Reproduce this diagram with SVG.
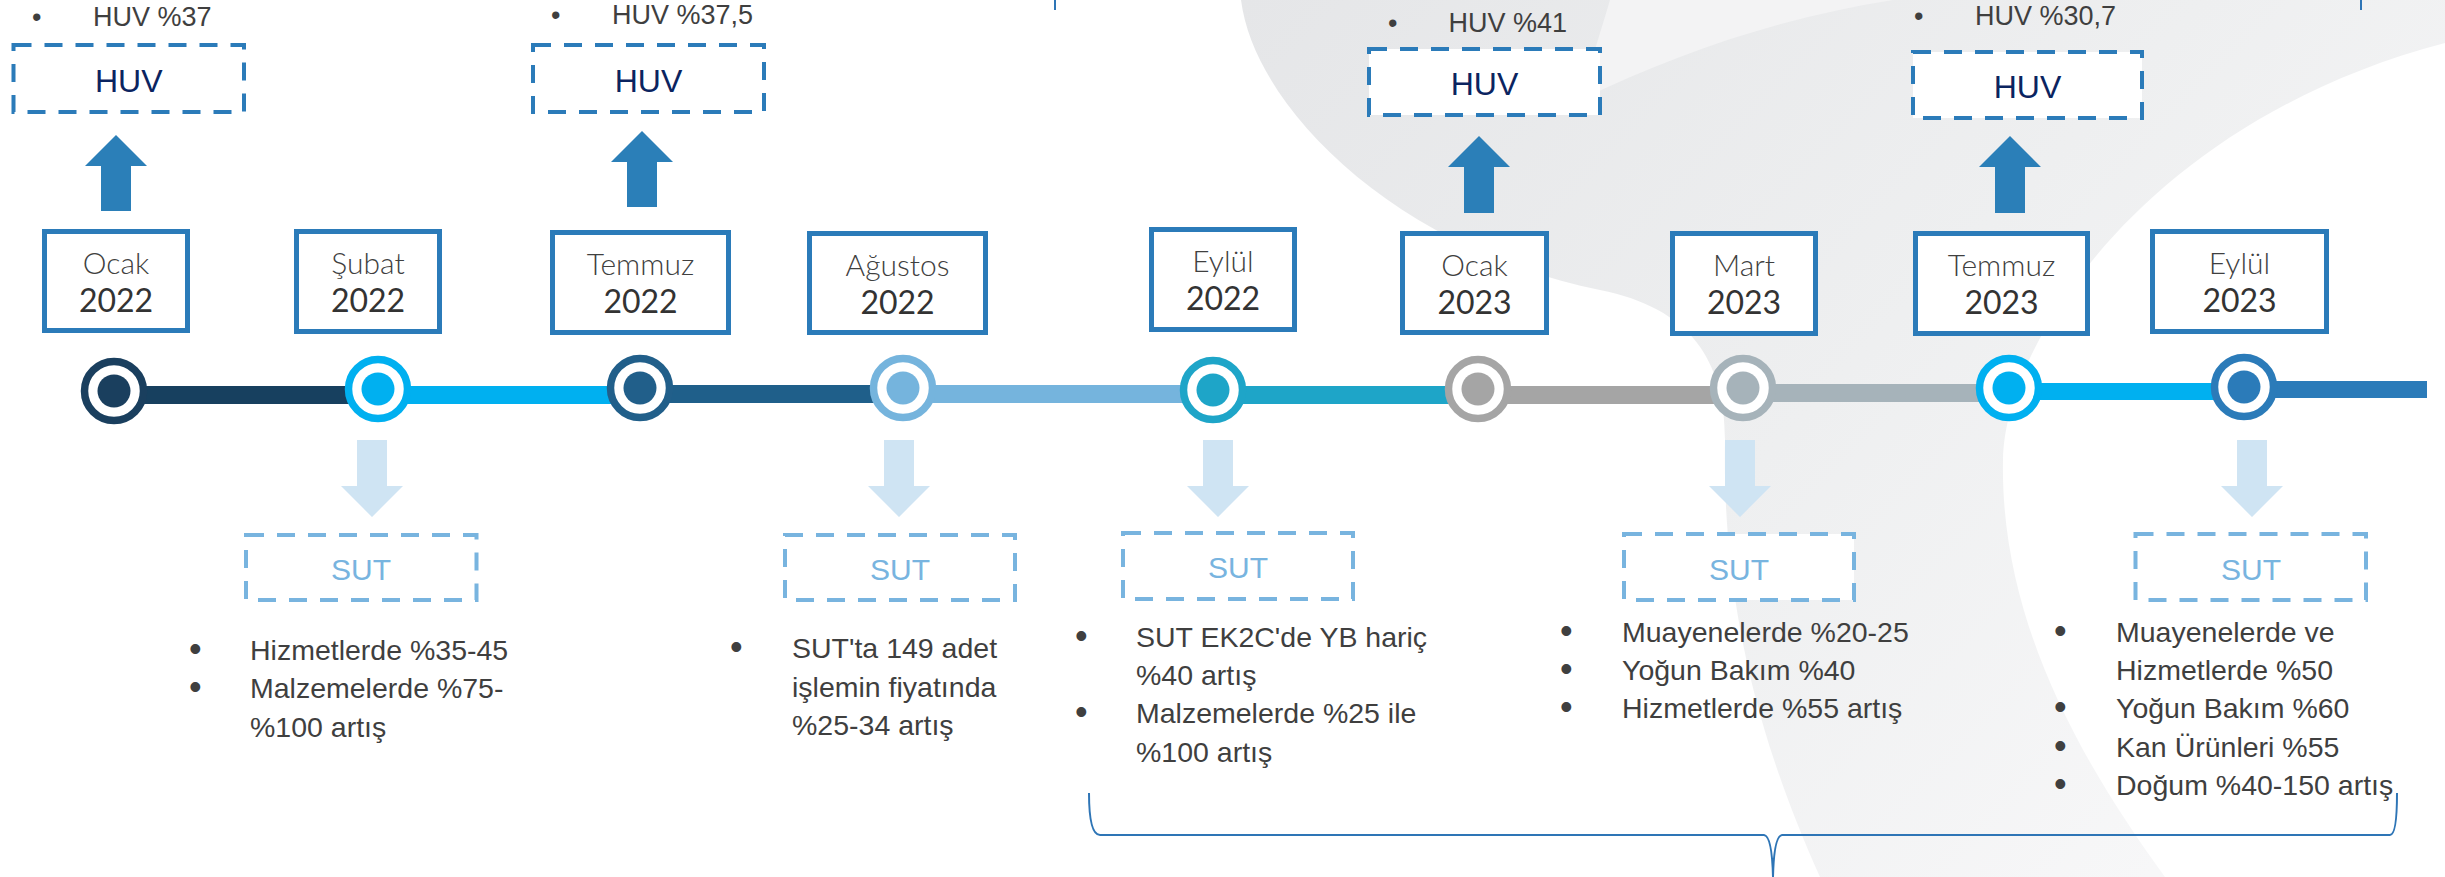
<svg xmlns="http://www.w3.org/2000/svg" width="2445" height="877" viewBox="0 0 2445 877">
<defs>
<style>
.mon{font-family:Lato,"Liberation Sans",sans-serif;font-weight:300;font-size:30px;fill:#404040;text-anchor:middle}
.yr{font-family:Lato,"Liberation Sans",sans-serif;font-weight:400;font-size:32px;fill:#333333;text-anchor:middle}
.dbox{fill:#ffffff;stroke:#2b7bb9;stroke-width:5}
.hbox{fill:#ffffff;stroke:#2b7bb9;stroke-width:4;stroke-dasharray:18 13}
.sbox{fill:#ffffff;stroke:#78b4df;stroke-width:4;stroke-dasharray:18 13}
.huv{font-family:"Liberation Sans",Arial,sans-serif;font-size:32px;fill:#0b2460;text-anchor:middle}
.sut{font-family:"Liberation Sans",Arial,sans-serif;font-size:30px;fill:#78b4df;text-anchor:middle}
.bl{font-family:"Liberation Sans",Arial,sans-serif;font-size:28.5px;fill:#3f3f3f}
.bu{font-family:"Liberation Sans",Arial,sans-serif;font-size:36px;fill:#3f3f3f}
.sm{font-family:"Liberation Sans",Arial,sans-serif;font-size:27px;fill:#3f3f3f}
.up{fill:#2b7fb8}
.dn{fill:#cfe4f3}
.ring{fill:#ffffff;stroke-width:7.5}
.brace{fill:none;stroke:#2e75b6;stroke-width:2}
</style>
<linearGradient id="bgGrad" x1="1240" y1="0" x2="2150" y2="877" gradientUnits="userSpaceOnUse">
<stop offset="0" stop-color="#e5e6e8"/>
<stop offset="0.55" stop-color="#eeeff0"/>
<stop offset="1" stop-color="#f7f7f8"/>
</linearGradient>
</defs>

<g id="background">
<path d="M1241,0 C1255,110 1400,250 1600,290 C1690,308 1725,360 1725,440 C1723,560 1740,700 1820,877 L2165,877 C2080,760 2000,620 2003,460 C2005,340 2150,120 2445,43 L2445,0 Z" fill="url(#bgGrad)"/>
<path d="M1580,100 C1680,52 1780,18 1893,0 L1610,0 C1598,40 1588,72 1580,100 Z" fill="#f3f3f4"/>
</g>

<g id="connectors">
<rect x="114" y="386" width="264" height="18" fill="#17405f"/>
<rect x="378" y="386" width="262" height="18" fill="#00b0f0"/>
<rect x="640" y="385" width="263" height="18" fill="#1f5f8a"/>
<rect x="903" y="385" width="310" height="18" fill="#75b4dd"/>
<rect x="1213" y="386" width="265" height="18" fill="#1ea5c8"/>
<rect x="1478" y="386" width="265" height="18" fill="#a5a5a5"/>
<rect x="1743" y="384" width="266" height="18" fill="#a6b3ba"/>
<rect x="2009" y="383" width="235" height="17" fill="#00b0f0"/>
<rect x="2244" y="381" width="183" height="17" fill="#2b7bb9"/>

<polygon class="up" points="116,135 147,166 131,166 131,211 101,211 101,166 85,166"/>
<polygon class="up" points="642,131 673,162 657,162 657,207 627,207 627,162 611,162"/>
<polygon class="up" points="1479,136 1510,167 1494,167 1494,213 1464,213 1464,167 1448,167"/>
<polygon class="up" points="2010,136 2041,167 2025,167 2025,213 1995,213 1995,167 1979,167"/>

<polygon class="dn" points="357,440 387,440 387,486 403,486 372,517 341,486 357,486"/>
<polygon class="dn" points="884,440 914,440 914,486 930,486 899,517 868,486 884,486"/>
<polygon class="dn" points="1203,440 1233,440 1233,486 1249,486 1218,517 1187,486 1203,486"/>
<polygon class="dn" points="1725,440 1755,440 1755,486 1771,486 1740,517 1709,486 1725,486"/>
<polygon class="dn" points="2237,440 2267,440 2267,486 2283,486 2252,517 2221,486 2237,486"/>

<path class="brace" d="M1089,793 Q1089,835 1100,835 L1764,835 Q1772,836 1773,877 Q1774,836 1782,835 L2390,835 Q2397,835 2397,793"/>
<line class="brace" x1="1055" y1="0" x2="1055" y2="10"/>
<line class="brace" x1="2361" y1="0" x2="2361" y2="10"/>
</g>

<g id="node-ocak-2022">
<circle class="ring" cx="114" cy="391" r="29.5" stroke="#1a3f5e"/>
<circle cx="114" cy="391" r="16.5" fill="#1a3f5e"/>
<rect class="dbox" x="44.5" y="231.5" width="143" height="99"/>
<text class="mon" x="116" y="274">Ocak</text>
<text class="yr" x="116" y="312">2022</text>
</g>
<g id="node-subat-2022">
<circle class="ring" cx="378" cy="389" r="29.5" stroke="#00b0f0"/>
<circle cx="378" cy="389" r="16.5" fill="#00b0f0"/>
<rect class="dbox" x="296.5" y="231.5" width="143" height="100"/>
<text class="mon" x="368" y="274">Şubat</text>
<text class="yr" x="368" y="312">2022</text>
</g>
<g id="node-temmuz-2022">
<circle class="ring" cx="640" cy="388" r="29.5" stroke="#215f8a"/>
<circle cx="640" cy="388" r="16.5" fill="#215f8a"/>
<rect class="dbox" x="552.5" y="232.5" width="176" height="100"/>
<text class="mon" x="640.5" y="275">Temmuz</text>
<text class="yr" x="640.5" y="313">2022</text>
</g>
<g id="node-agustos-2022">
<circle class="ring" cx="903" cy="388" r="29.5" stroke="#75b4dd"/>
<circle cx="903" cy="388" r="16.5" fill="#75b4dd"/>
<rect class="dbox" x="809.5" y="233.5" width="176" height="99"/>
<text class="mon" x="897.5" y="276">Ağustos</text>
<text class="yr" x="897.5" y="314">2022</text>
</g>
<g id="node-eylul-2022">
<circle class="ring" cx="1213" cy="390" r="29.5" stroke="#1ea5c8"/>
<circle cx="1213" cy="390" r="16.5" fill="#1ea5c8"/>
<rect class="dbox" x="1151.5" y="229.5" width="143" height="100"/>
<text class="mon" x="1223" y="272">Eylül</text>
<text class="yr" x="1223" y="310">2022</text>
</g>
<g id="node-ocak-2023">
<circle class="ring" cx="1478" cy="389" r="29.5" stroke="#a5a5a5"/>
<circle cx="1478" cy="389" r="16.5" fill="#a5a5a5"/>
<rect class="dbox" x="1402.5" y="233.5" width="144" height="99"/>
<text class="mon" x="1474.5" y="276">Ocak</text>
<text class="yr" x="1474.5" y="314">2023</text>
</g>
<g id="node-mart-2023">
<circle class="ring" cx="1743" cy="388" r="29.5" stroke="#a6b3ba"/>
<circle cx="1743" cy="388" r="16.5" fill="#a6b3ba"/>
<rect class="dbox" x="1672.5" y="233.5" width="143" height="100"/>
<text class="mon" x="1744" y="276">Mart</text>
<text class="yr" x="1744" y="314">2023</text>
</g>
<g id="node-temmuz-2023">
<circle class="ring" cx="2009" cy="388" r="29.5" stroke="#00b0f0"/>
<circle cx="2009" cy="388" r="16.5" fill="#00b0f0"/>
<rect class="dbox" x="1915.5" y="233.5" width="172" height="100"/>
<text class="mon" x="2001.5" y="276">Temmuz</text>
<text class="yr" x="2001.5" y="314">2023</text>
</g>
<g id="node-eylul-2023">
<circle class="ring" cx="2244" cy="387" r="29.5" stroke="#2b7bb9"/>
<circle cx="2244" cy="387" r="16.5" fill="#2b7bb9"/>
<rect class="dbox" x="2152.5" y="231.5" width="174" height="100"/>
<text class="mon" x="2239.5" y="274">Eylül</text>
<text class="yr" x="2239.5" y="312">2023</text>
</g>

<g id="huv-1">
<text class="sm" x="32" y="26">•</text>
<text class="sm" x="93" y="26">HUV %37</text>
<rect class="hbox" x="13.5" y="45" width="230.5" height="67"/>
<text class="huv" x="128.75" y="92">HUV</text>
</g>
<g id="huv-2">
<text class="sm" x="551" y="24">•</text>
<text class="sm" x="612" y="24">HUV %37,5</text>
<rect class="hbox" x="533" y="45" width="231" height="67"/>
<text class="huv" x="648.5" y="92">HUV</text>
</g>
<g id="huv-3">
<text class="sm" x="1388" y="32">•</text>
<text class="sm" x="1448.5" y="32">HUV %41</text>
<rect class="hbox" x="1369" y="49" width="231" height="66"/>
<text class="huv" x="1484.5" y="95">HUV</text>
</g>
<g id="huv-4">
<text class="sm" x="1914" y="25">•</text>
<text class="sm" x="1975" y="25">HUV %30,7</text>
<rect class="hbox" x="1913" y="52" width="229" height="66"/>
<text class="huv" x="2027.5" y="98">HUV</text>
</g>

<g id="sut-1">
<rect class="sbox" x="246" y="535" width="230.5" height="65"/>
<text class="sut" x="361" y="580">SUT</text>
<text class="bu" x="189" y="661">•</text>
<text class="bl" x="250" y="660">Hizmetlerde %35-45</text>
<text class="bu" x="189" y="699">•</text>
<text class="bl" x="250" y="698">Malzemelerde %75-</text>
<text class="bl" x="250" y="737">%100 artış</text>
</g>
<g id="sut-2">
<rect class="sbox" x="785" y="535" width="230" height="65"/>
<text class="sut" x="900" y="580">SUT</text>
<text class="bu" x="730" y="659">•</text>
<text class="bl" x="792" y="658">SUT'ta 149 adet</text>
<text class="bl" x="792" y="697">işlemin fiyatında</text>
<text class="bl" x="792" y="735">%25-34 artış</text>
</g>
<g id="sut-3">
<rect class="sbox" x="1123" y="533" width="230" height="66"/>
<text class="sut" x="1238" y="578">SUT</text>
<text class="bu" x="1075" y="648">•</text>
<text class="bl" x="1136" y="647">SUT EK2C'de YB hariç</text>
<text class="bl" x="1136" y="685">%40 artış</text>
<text class="bu" x="1075" y="724">•</text>
<text class="bl" x="1136" y="723">Malzemelerde %25 ile</text>
<text class="bl" x="1136" y="762">%100 artış</text>
</g>
<g id="sut-4">
<rect class="sbox" x="1624" y="534" width="230" height="66"/>
<text class="sut" x="1739" y="580">SUT</text>
<text class="bu" x="1560" y="643">•</text>
<text class="bl" x="1622" y="642">Muayenelerde %20-25</text>
<text class="bu" x="1560" y="681">•</text>
<text class="bl" x="1622" y="680">Yoğun Bakım %40</text>
<text class="bu" x="1560" y="719">•</text>
<text class="bl" x="1622" y="718">Hizmetlerde %55 artış</text>
</g>
<g id="sut-5">
<rect class="sbox" x="2135.5" y="534" width="230.5" height="66"/>
<text class="sut" x="2251" y="580">SUT</text>
<text class="bu" x="2054" y="643">•</text>
<text class="bl" x="2116" y="642">Muayenelerde ve</text>
<text class="bl" x="2116" y="680">Hizmetlerde %50</text>
<text class="bu" x="2054" y="719">•</text>
<text class="bl" x="2116" y="718">Yoğun Bakım %60</text>
<text class="bu" x="2054" y="758">•</text>
<text class="bl" x="2116" y="757">Kan Ürünleri %55</text>
<text class="bu" x="2054" y="796">•</text>
<text class="bl" x="2116" y="795">Doğum %40-150 artış</text>
</g>
</svg>
